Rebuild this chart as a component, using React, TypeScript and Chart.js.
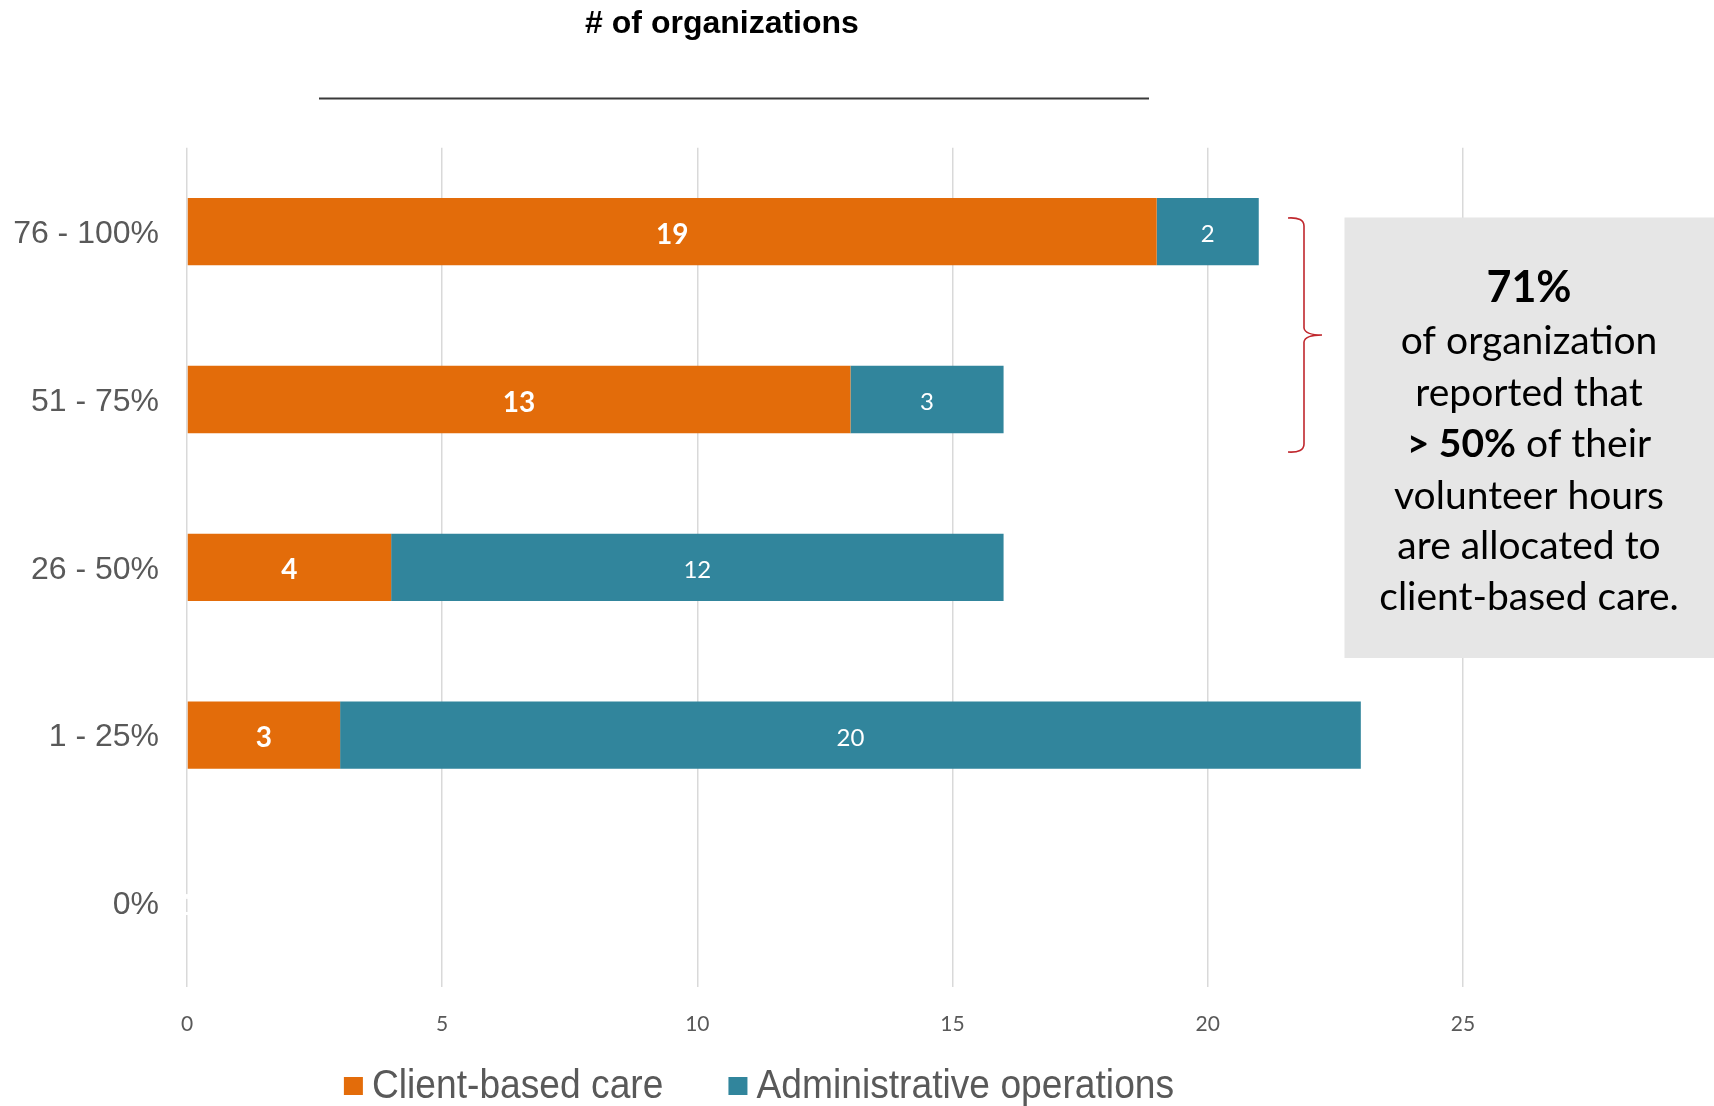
import React, { useEffect, useRef } from 'react';
import { Chart, registerables } from 'chart.js';

Chart.register(...registerables);

// ---- data ----
const categories = ['76 - 100%', '51 - 75%', '26 - 50%', '1 - 25%', '0%'];
const clientBased = [19, 13, 4, 3, 0];
const administrative = [2, 3, 12, 20, 0];
const seriesNames = ['Client-based care', 'Administrative operations'];
const xTickValues = [0, 5, 10, 15, 20, 25];
const chartTitle = '# of organizations';
const calloutLines: { text: string; bold?: boolean }[][] = [
  [{ text: '71%', bold: true }],
  [{ text: 'of organization' }],
  [{ text: 'reported that' }],
  [{ text: '> 50%', bold: true }, { text: ' of their' }],
  [{ text: 'volunteer hours' }],
  [{ text: 'are allocated to' }],
  [{ text: 'client-based care.' }],
];

// ---- styles ----
const W = 1714;
const H = 1106;
const ORANGE = '#E36C0A';
const TEAL = '#31859C';
const GREY_TEXT = '#595959';
const ARIAL = "'Liberation Sans', Arial, sans-serif";
const CAL = "Lato, 'Open Sans', sans-serif";

const overlayPlugin = {
  id: 'overlay',
  afterDatasetsDraw(chart: any) {
    const ctx = chart.ctx;
    ctx.save();
    ctx.textAlign = 'center';
    ctx.textBaseline = 'middle';
    ctx.fillStyle = '#FFFFFF';
    chart.data.datasets.forEach((ds: any, i: number) => {
      const meta = chart.getDatasetMeta(i);
      ctx.font = i === 0 ? `bold 28px ${CAL}` : `24px ${CAL}`;
      meta.data.forEach((bar: any, j: number) => {
        const p = bar.getProps(['x', 'y', 'base'], true);
        ctx.fillText(String(ds.data[j]), (p.x + p.base) / 2, p.y + 3);
      });
    });
    ctx.restore();
  },
  afterDraw(chart: any) {
    const ctx = chart.ctx;
    ctx.save();
    // title
    ctx.fillStyle = '#000000';
    ctx.font = `bold 32px ${ARIAL}`;
    ctx.textAlign = 'center';
    ctx.textBaseline = 'middle';
    ctx.fillText(chartTitle, 722, 24);
    // rule under title
    ctx.strokeStyle = '#3A3A3A';
    ctx.lineWidth = 2;
    ctx.beginPath();
    ctx.moveTo(319, 98.5);
    ctx.lineTo(1149, 98.5);
    ctx.stroke();

    // brace
    ctx.strokeStyle = '#C0272D';
    ctx.lineWidth = 1.6;
    ctx.beginPath();
    ctx.moveTo(1288, 218);
    ctx.quadraticCurveTo(1304, 217, 1304, 226);
    ctx.lineTo(1304, 328);
    ctx.quadraticCurveTo(1305, 335, 1322, 335);
    ctx.moveTo(1322, 335);
    ctx.quadraticCurveTo(1305, 335, 1304, 342);
    ctx.lineTo(1304, 444);
    ctx.quadraticCurveTo(1304, 453, 1288, 452);
    ctx.stroke();

    // callout box
    ctx.fillStyle = '#E6E6E6';
    ctx.fillRect(1344.5, 217.5, W - 1344.5, 658 - 217.5);
    ctx.fillStyle = '#000000';
    ctx.textAlign = 'left';
    ctx.textBaseline = 'middle';
    const lineYs = [288.5, 341.5, 393, 444.5, 496, 546.5, 597.5];
    calloutLines.forEach((segs, li) => {
      const fonts = segs.map((s) => (s.bold ? `bold ${li === 0 ? 43 : 39}px ${CAL}` : `39px ${CAL}`));
      let total = 0;
      const widths = segs.map((s, k) => {
        ctx.font = fonts[k];
        const w = ctx.measureText(s.text).width;
        total += w;
        return w;
      });
      let x = 1529 - total / 2;
      segs.forEach((s, k) => {
        ctx.font = fonts[k];
        ctx.fillText(s.text, x, lineYs[li]);
        x += widths[k];
      });
    });

    // legend (slightly condensed Arial)
    const colors = [ORANGE, TEAL];
    const sx = 0.93;
    ctx.font = `40px ${ARIAL}`;
    const box = 19;
    const gapText = 9;
    const gapItem = 65;
    const tw = seriesNames.map((n) => ctx.measureText(n).width * sx);
    const total = tw.reduce((a, b) => a + b, 0) + seriesNames.length * (box + gapText) + gapItem * (seriesNames.length - 1);
    let lx = 759 - total / 2;
    const ly = 1087;
    seriesNames.forEach((n, i) => {
      ctx.fillStyle = colors[i];
      ctx.fillRect(lx, ly - 10, box, 18);
      lx += box + gapText;
      ctx.fillStyle = GREY_TEXT;
      ctx.save();
      ctx.translate(lx, ly);
      ctx.scale(sx, 1);
      ctx.fillText(n, 0, 0);
      ctx.restore();
      lx += tw[i] + gapItem;
    });
    ctx.restore();
  },
};

export default function App() {
  const ref = useRef<HTMLCanvasElement | null>(null);
  useEffect(() => {
    if (!ref.current) return;
    const chart = new Chart(ref.current, {
      type: 'bar',
      data: {
        labels: categories,
        datasets: [
          { label: seriesNames[0], data: clientBased, backgroundColor: ORANGE, categoryPercentage: 1, barPercentage: 0.401 },
          { label: seriesNames[1], data: administrative, backgroundColor: TEAL, categoryPercentage: 1, barPercentage: 0.401 },
        ],
      },
      options: {
        indexAxis: 'y',
        animation: false,
        responsive: false,
        maintainAspectRatio: false,
        layout: { padding: { top: 147.8, right: 98, bottom: 0, left: 0 } },
        plugins: { legend: { display: false }, title: { display: false }, tooltip: { enabled: false } },
        scales: {
          x: {
            stacked: true,
            min: 0,
            max: 28,
            grid: { color: '#D9D9D9', lineWidth: 1.5, drawTicks: false },
            border: { display: false },
            ticks: { color: GREY_TEXT, font: { family: CAL, size: 21 }, padding: 25 },
            afterBuildTicks: (s: any) => {
              s.ticks = xTickValues.map((v) => ({ value: v }));
            },
            afterFit: (s: any) => {
              s.height = 119.2;
            },
          },
          y: {
            stacked: true,
            grid: { display: false, drawTicks: false },
            border: { display: false },
            ticks: { color: GREY_TEXT, font: { family: ARIAL, size: 32 }, padding: 28, labelOffset: 2.5 },
            afterFit: (s: any) => {
              s.width = 187;
            },
          },
        },
      },
      plugins: [overlayPlugin],
    });
    return () => chart.destroy();
  }, []);
  return (
    <div style={{ position: 'fixed', left: 0, top: 0, width: W, height: H, background: '#fff' }}>
      <canvas ref={ref} width={W} height={H} style={{ display: 'block', width: W, height: H }} />
    </div>
  );
}
